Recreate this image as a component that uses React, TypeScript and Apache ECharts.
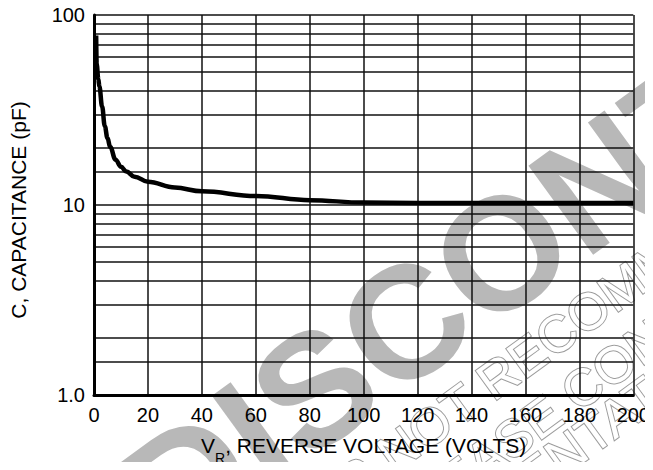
import React, { useEffect, useRef } from "react";
import * as echarts from "echarts";

// Reverse voltage (V) and capacitance (pF)
const voltage = [0.8, 1, 1.6, 2, 3, 4, 5, 6, 8, 10, 12, 15, 20, 30, 40, 60, 80, 100, 120, 150, 200];
const capacitance = [78, 55, 46, 42, 33, 26, 22.5, 20.2, 17.3, 15.9, 15, 14.1, 13.25, 12.35, 11.8, 11.15, 10.6, 10.3, 10.25, 10.25, 10.25];

// Minor log grid lines
const minorGrid = [1.5, 2, 3, 4, 5, 6, 7, 8, 9, 15, 20, 30, 40, 50, 60, 70, 80, 90];

const xTitle = "REVERSE VOLTAGE (VOLTS)";
const yTitle = "C, CAPACITANCE (pF)";
const watermark = "DISCONTINUED";
const noteLines = [
  "THIS DEVICE IS NOT RECOMMENDED FOR NEW DESIGN.",
  "PLEASE CONTACT YOUR",
  "REPRESENTATIVE FOR INFORMATION",
];

const FONT = "'Liberation Sans', Arial, Helvetica, sans-serif";

export default function App() {
  const ref = useRef<HTMLDivElement>(null);
  useEffect(() => {
    if (!ref.current) return;
    const chart = echarts.init(ref.current, null, { renderer: "svg" });
    const gray = "#b8b8b8";
    const bigAng = (36 * Math.PI) / 180;
    const smallAng = (36 * Math.PI) / 180;
    const note = (text: string, x: number, y: number) => ({
      type: "text",
      x,
      y,
      rotation: smallAng,
      z: 1,
      silent: true,
      style: {
        text,
        fontSize: 52,
        fontFamily: FONT,
        fill: "#fff",
        stroke: "#9c9c9c",
        lineWidth: 2,
        align: "left",
        verticalAlign: "middle",
      },
    });
    chart.setOption({
      animation: false,
      backgroundColor: "#fff",
      graphic: {
        elements: [
          {
            type: "text",
            x: 142,
            y: 514,
            rotation: bigAng,
            z: 0,
            silent: true,
            style: {
              text: watermark,
              fontSize: 160,
              fontWeight: "bold",
              fontFamily: FONT,
              fill: gray,
              align: "left",
              verticalAlign: "middle",
            },
          },
          note(noteLines[0], 56, 698),
          note(noteLines[1], 392, 526),
          note(noteLines[2], 350, 610),
        ],
      },
      grid: { left: 89, right: 18, top: 15, bottom: 71, containLabel: false },
      xAxis: {
        type: "value",
        z: 10,
        min: 0,
        max: 200,
        interval: 20,
        name: "{a|V}{b|R}{a|, " + xTitle + "}",
        nameLocation: "middle",
        nameGap: 40,
        nameTextStyle: {
          rich: {
            a: { fontSize: 21, fontFamily: FONT, color: "#000", lineHeight: 30, verticalAlign: "top" },
            b: { fontSize: 14, fontFamily: FONT, color: "#000", lineHeight: 14, padding: [16, 0, 0, 0], verticalAlign: "top" },
          },
        },
        axisLine: { show: true, lineStyle: { color: "#000", width: 3 } },
        axisTick: { show: false },
        axisLabel: { fontSize: 20, fontFamily: FONT, color: "#000", margin: 10 },
        splitLine: { show: true, lineStyle: { color: "#111", width: 1.5 } },
      },
      yAxis: {
        type: "log",
        z: 10,
        logBase: 10,
        min: 1,
        max: 100,
        name: yTitle,
        nameLocation: "middle",
        nameGap: 65,
        nameTextStyle: { fontSize: 21, fontFamily: FONT, color: "#000", padding: [0, 10, 0, 0] },
        axisLine: { show: true, lineStyle: { color: "#000", width: 3 } },
        axisTick: { show: false },
        axisLabel: {
          fontSize: 20,
          fontFamily: FONT,
          color: "#000",
          margin: 9,
          padding: [8, 0, 0, 0],
          formatter: (v: number) => (v === 1 ? "1.0" : String(Math.round(v))),
        },
        splitLine: { show: true, lineStyle: { color: "#111", width: 1.5 } },
        minorTick: { show: false },
      },
      series: [
        {
          type: "line",
          z: 12,
          data: voltage.map((v, i) => [v, capacitance[i]]),
          showSymbol: false,
          smooth: 0.4,
          smoothMonotone: "x",
          lineStyle: { color: "#000", width: 4.5 },
          markLine: {
            silent: true,
            symbol: "none",
            label: { show: false },
            lineStyle: { color: "#111", width: 1.5, type: "solid" },
            data: minorGrid.map((v) => ({ yAxis: v })),
          },
        },
      ],
    });
    return () => chart.dispose();
  }, []);
  return <div ref={ref} style={{ width: 653, height: 470, margin: -8 }} />;
}
